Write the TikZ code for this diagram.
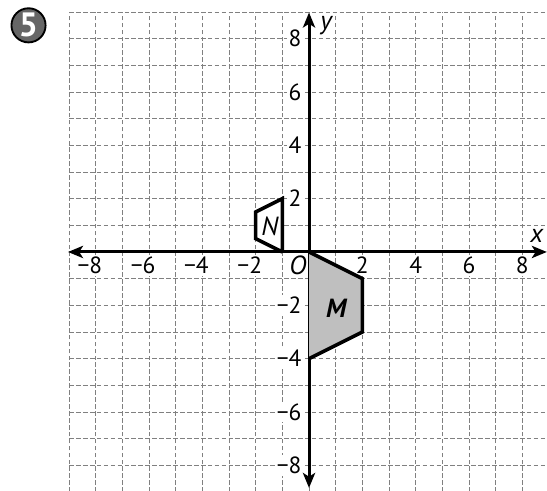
\documentclass[tikz,border=0pt]{standalone}
\usepackage{fontspec}
\setmainfont{PT Sans}
\usetikzlibrary{arrows.meta}
\begin{document}
\begin{tikzpicture}[x=0.5cm,y=0.5cm,
  gridline/.style={draw=black!50,line width=0.4pt,dash pattern=on 2.5pt off 1.2pt},
  axisline/.style={line width=1.6pt,{Stealth[length=8pt,width=6.5pt,inset=2pt]}-{Stealth[length=8pt,width=6.5pt,inset=2pt]}},
  shapeline/.style={line width=1.9pt,line join=miter},
  numlab/.style={font=\fontsize{12.5}{14}\selectfont,inner sep=1pt,fill=white},
  varlab/.style={font=\fontsize{14}{16}\selectfont\itshape,inner sep=1pt,fill=white},
  shapelab/.style={font=\fontsize{14}{16}\selectfont\bfseries\itshape,inner sep=0pt}]
\useasboundingbox (-11.59,-8.96) rectangle (8.925,9.45);
% grid
\foreach \k in {-9,...,9} {
  \draw[gridline] (\k,-9) -- (\k,9);
  \draw[gridline] (-9,\k) -- (9,\k);
}
% labels (drawn before axes so their backgrounds only hide grid)
\node[varlab] (xlab) at (8.54,0.6) {x};
\node[varlab] (ylab) at (0.64,8.5) {y};
\node[varlab] (olab) at (-0.42,-0.5) {O};
\foreach \v in {2,4,6,8} {
  \node[numlab] (xp\v) at (\v,-0.5) {\v};
  \node[numlab,inner xsep=0pt] (xn\v) at (-\v,-0.5) {−\v\phantom{−}};
  \node[numlab,anchor=east] (yp\v) at (-0.2,\v) {\v};
  \node[numlab,anchor=east] (yn\v) at (-0.2,-\v) {−\v};
}
% axes
\coordinate (xl) at (-9.04,0);
\coordinate (xr) at (8.92,0);
\coordinate (yt) at (0,8.98);
\coordinate (yb) at (0,-8.85);
\draw[axisline] (xl) -- (xr);
\draw[axisline] (yb) -- (yt);
% shape M
\coordinate (m1) at (0,0);
\coordinate (m2) at (2,-1);
\coordinate (m3) at (2,-3);
\coordinate (m4) at (0,-4);
\fill[black!25] (m1) -- (m2) -- (m3) -- (m4) -- cycle;
\draw[shapeline] (m1) -- (m2) -- (m3) -- (m4);
\node[shapelab] (mlab) at (1.02,-2.1) {M};
% shape N
\coordinate (n1) at (-1,2);
\coordinate (n2) at (-2,1.5);
\coordinate (n3) at (-2,0.5);
\coordinate (n4) at (-1,0);
\fill[white] (n1) -- (n2) -- (n3) -- (n4) -- cycle;
\draw[shapeline] (n4) -- (n1) -- (n2) -- (n3) -- (n4);
\node[shapelab,font=\fontsize{14}{16}\selectfont\itshape] (nlab) at (-1.47,0.95) {N};
% problem number
\node[circle,draw=black,line width=1pt,fill=black!60,minimum size=0.64cm,inner sep=0pt,
      font=\fontsize{18}{20}\selectfont\bfseries,text=white] (num) at (-10.52,8.5) {5};
\end{tikzpicture}
\end{document}
